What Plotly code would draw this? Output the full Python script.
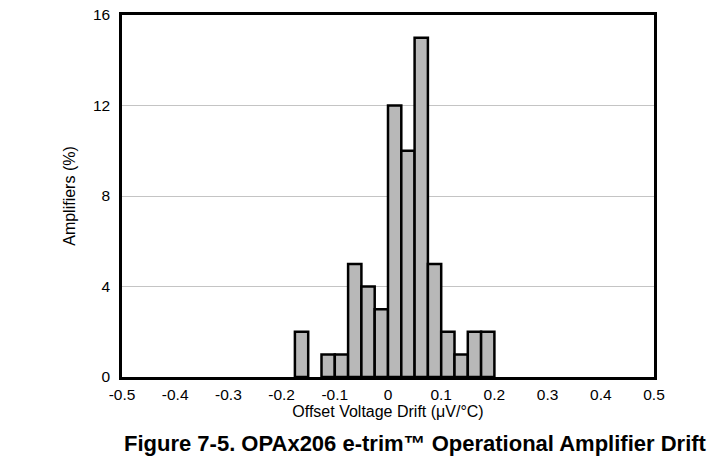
import plotly.graph_objects as go

# histogram bins (width 0.025)
bin_centers = [-0.1625, -0.1125, -0.0875, -0.0625, -0.0375, -0.0125,
               0.0125, 0.0375, 0.0625, 0.0875, 0.1125, 0.1375, 0.1625, 0.1875]
amplifiers_pct = [2, 1, 1, 5, 4, 3, 12, 10, 15, 5, 2, 1, 2, 2]
bin_width = 0.025

x_ticks = [-0.5, -0.4, -0.3, -0.2, -0.1, 0, 0.1, 0.2, 0.3, 0.4, 0.5]
x_tick_text = ["-0.5", "-0.4", "-0.3", "-0.2", "-0.1", "0", "0.1", "0.2", "0.3", "0.4", "0.5"]
y_ticks = [0, 4, 8, 12, 16]

FONT = "Liberation Sans, Arial, sans-serif"

fig = go.Figure()
fig.add_trace(go.Bar(
    x=bin_centers,
    y=amplifiers_pct,
    width=[bin_width] * len(bin_centers),
    marker={"color": "#b8b8b8", "line": {"color": "#000000", "width": 2.5}},
    hoverinfo="skip",
))

fig.update_layout(
    width=719,
    height=470,
    paper_bgcolor="white",
    plot_bgcolor="white",
    showlegend=False,
    font={"family": FONT, "size": 15.5, "color": "#000000"},
    margin={"l": 122, "r": 65, "t": 15, "b": 93, "autoexpand": False},
    xaxis={
        "range": [-0.5, 0.5],
        "tickmode": "array",
        "tickvals": x_ticks,
        "ticktext": x_tick_text,
        "showgrid": False,
        "zeroline": False,
        "showline": True,
        "linecolor": "#000000",
        "linewidth": 2.5,
        "mirror": True,
        "ticks": "",
        "ticklabelstandoff": 2,
        "title": {"text": "Offset Voltage Drift (μV/°C)", "standoff": 0, "font": {"size": 16}},
    },
    yaxis={
        "range": [0, 16],
        "tickmode": "array",
        "tickvals": y_ticks,
        "showgrid": True,
        "gridcolor": "#c4c4c4",
        "gridwidth": 1,
        "zeroline": False,
        "showline": True,
        "linecolor": "#000000",
        "linewidth": 2.5,
        "mirror": True,
        "ticks": "",
        "ticklabelstandoff": 6,
        "title": {"text": "Amplifiers (%)", "standoff": 14, "font": {"size": 16}},
    },
)

fig.add_annotation(
    text="<b>Figure 7-5. OPAx206 e-trim™ Operational Amplifier Drift</b>",
    xref="paper", yref="paper",
    x=0.551, y=-0.184,
    xanchor="center", yanchor="middle",
    showarrow=False,
    font={"family": FONT, "size": 22, "color": "#000000"},
)

# drop the default 8px body margin so the figure fills the window exactly
fig.write_html(
    "out.html",
    config={"displayModeBar": False},
    post_script="document.body.style.margin = '0';",
)
